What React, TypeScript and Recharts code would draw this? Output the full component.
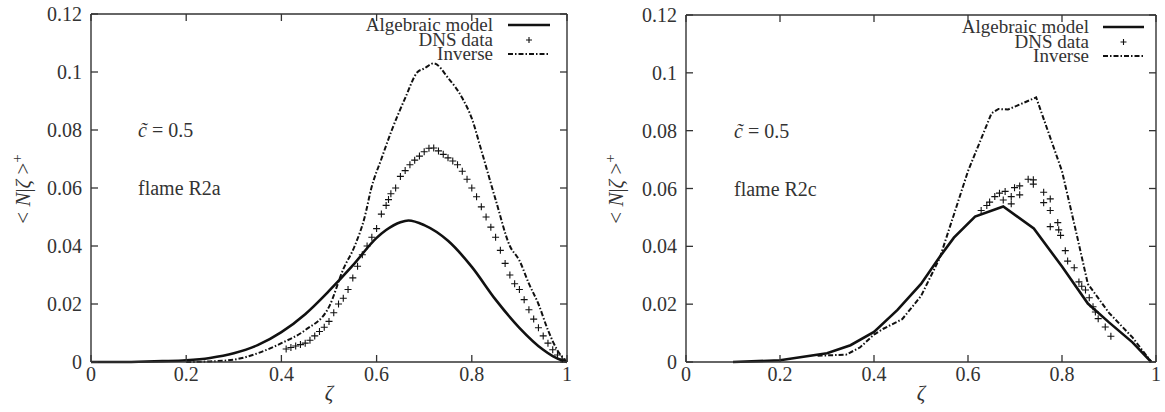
import React from 'react';
import { ComposedChart, Line, Scatter, XAxis, YAxis } from 'recharts';

const xTicks = [0, 0.2, 0.4, 0.6, 0.8, 1];
const xTickLabels = ['0', '0.2', '0.4', '0.6', '0.8', '1'];
const yTicks = [0, 0.02, 0.04, 0.06, 0.08, 0.1, 0.12];
const yTickLabels = ['0', '0.02', '0.04', '0.06', '0.08', '0.1', '0.12'];

const seriesNames = ['Algebraic model', 'DNS data', 'Inverse'];

// flame R2a
const r2aModelX = [0, 0.05, 0.1, 0.15, 0.2, 0.25, 0.3, 0.35, 0.4, 0.45, 0.5, 0.55, 0.6, 0.62, 0.65, 0.667, 0.7, 0.75, 0.8, 0.85, 0.9, 0.95, 0.97, 0.99, 1];
const r2aModelY = [0, 0, 0.0001, 0.0003, 0.0006, 0.0014, 0.003, 0.0058, 0.0103, 0.0165, 0.0245, 0.0333, 0.0428, 0.0455, 0.0482, 0.0488, 0.0472, 0.0418, 0.0328, 0.0215, 0.0118, 0.0042, 0.002, 0.0005, 0];

const r2aInvX = [0.2, 0.25, 0.3, 0.35, 0.4, 0.45, 0.5, 0.53, 0.554, 0.575, 0.589, 0.61, 0.632, 0.66, 0.686, 0.7, 0.72, 0.75, 0.78, 0.8, 0.82, 0.85, 0.88, 0.9, 0.92, 0.94, 0.96, 0.98, 1];
const r2aInvY = [0, 0.0002, 0.0008, 0.003, 0.0065, 0.011, 0.019, 0.032, 0.04, 0.05, 0.06, 0.07, 0.08, 0.091, 0.1, 0.1012, 0.103, 0.098, 0.091, 0.084, 0.073, 0.056, 0.04, 0.035, 0.027, 0.02, 0.011, 0.004, 0];

const r2aDnsX = [0.41, 0.42, 0.43, 0.44, 0.45, 0.46, 0.47, 0.48, 0.49, 0.5, 0.51, 0.52, 0.53, 0.54, 0.55, 0.56, 0.57, 0.58, 0.59, 0.6, 0.61, 0.62, 0.625, 0.63, 0.64, 0.65, 0.66, 0.67, 0.68, 0.69, 0.7, 0.71, 0.72, 0.73, 0.74, 0.75, 0.76, 0.77, 0.78, 0.79, 0.8, 0.81, 0.82, 0.83, 0.84, 0.85, 0.86, 0.87, 0.88, 0.89, 0.9, 0.91, 0.92, 0.93, 0.94, 0.95, 0.96, 0.97, 0.98, 0.99];
const r2aDnsY = [0.0045, 0.005, 0.0055, 0.006, 0.0065, 0.0075, 0.009, 0.0105, 0.012, 0.014, 0.017, 0.02, 0.022, 0.025, 0.029, 0.033, 0.037, 0.04, 0.043, 0.046, 0.051, 0.054, 0.056, 0.058, 0.06, 0.064, 0.066, 0.068, 0.0696, 0.071, 0.0725, 0.0737, 0.0738, 0.0728, 0.0716, 0.0704, 0.0693, 0.068, 0.0658, 0.063, 0.06, 0.057, 0.0535, 0.05, 0.0465, 0.043, 0.0385, 0.034, 0.03, 0.027, 0.025, 0.0215, 0.018, 0.0148, 0.0118, 0.009, 0.0065, 0.0042, 0.0024, 0.001];

// flame R2c
const r2cModelX = [0.1, 0.2, 0.3, 0.35, 0.4, 0.45, 0.5, 0.54, 0.57, 0.615, 0.675, 0.74, 0.8, 0.855, 0.9, 0.95, 0.99];
const r2cModelY = [0, 0.0006, 0.003, 0.0058, 0.0104, 0.018, 0.027, 0.0364, 0.043, 0.0503, 0.0538, 0.0462, 0.033, 0.0202, 0.0137, 0.0068, 0];

const r2cInvX = [0.28, 0.34, 0.37, 0.4, 0.42, 0.46, 0.5, 0.54, 0.6, 0.635, 0.65, 0.665, 0.685, 0.745, 0.8, 0.83, 0.855, 0.9, 0.95, 0.99];
const r2cInvY = [0.0022, 0.0025, 0.005, 0.0095, 0.0115, 0.0148, 0.0228, 0.036, 0.066, 0.08, 0.086, 0.0875, 0.0873, 0.0915, 0.066, 0.045, 0.027, 0.017, 0.0085, 0];

const r2cDnsX = [0.628, 0.64, 0.646, 0.657, 0.667, 0.675, 0.679, 0.692, 0.692, 0.699, 0.71, 0.71, 0.728, 0.739, 0.739, 0.761, 0.761, 0.775, 0.775, 0.775, 0.791, 0.793, 0.797, 0.807, 0.812, 0.826, 0.836, 0.842, 0.85, 0.858, 0.866, 0.871, 0.877, 0.892, 0.904];
const r2cDnsY = [0.0524, 0.0541, 0.0553, 0.0572, 0.0584, 0.056, 0.059, 0.0572, 0.0547, 0.0603, 0.0609, 0.0578, 0.0632, 0.063, 0.0615, 0.0587, 0.0551, 0.0564, 0.0524, 0.0468, 0.0482, 0.0457, 0.0438, 0.0385, 0.0349, 0.0326, 0.0277, 0.0262, 0.0249, 0.0222, 0.0191, 0.0173, 0.015, 0.0121, 0.0089];

const zip = (xs: number[], ys: number[]) => xs.map((x, i) => ({ x, y: ys[i] }));

// positions of the inward tick marks on the four frame sides
const bottomTicks = xTicks.map((x) => ({ x, y: 0 }));
const topTicks = xTicks.map((x) => ({ x, y: 0.12 }));
const leftTicks = yTicks.map((y) => ({ x: 0, y }));
const rightTicks = yTicks.map((y) => ({ x: 1, y }));

const FONT = "'Liberation Serif', serif";
const INK = '#111';
const FRAME = '#333';
const TEXT = '#333';
const DASHDOT = '5 2 1.5 2';
const TICK_LEN = 7;
const FS = 20;

const Plus = (props: any) => {
  const { cx, cy } = props;
  if (cx == null || cy == null) return null;
  const s = 3.5;
  return (
    <path
      d={`M${cx - s},${cy}H${cx + s}M${cx},${cy - s}V${cy + s}`}
      stroke={INK}
      strokeWidth={1.1}
      fill="none"
    />
  );
};

const tickMark = (dx: number, dy: number) => (props: any) => {
  const { cx, cy } = props;
  if (cx == null || cy == null) return null;
  return (
    <line
      x1={cx}
      y1={cy}
      x2={cx + dx * TICK_LEN}
      y2={cy + dy * TICK_LEN}
      stroke={FRAME}
      strokeWidth={1.3}
    />
  );
};

const tickStyle = { fontSize: FS, fontFamily: FONT, fill: TEXT };

type PanelProps = {
  left: number;
  width: number;
  height: number;
  margin: { top: number; right: number; left: number; bottom: number };
  yAxisWidth: number;
  model: { x: number; y: number }[];
  inverse: { x: number; y: number }[];
  dns: { x: number; y: number }[];
  curve: 'monotone' | 'linear';
  flame: string;
  legend: { right: number; top: number; lineLeft: number; lineWidth: number };
  notes: { left: number; cTop: number; fTop: number };
  yLabelX: number;
};

const textStyle: React.CSSProperties = {
  position: 'absolute',
  fontFamily: FONT,
  fontSize: FS,
  color: TEXT,
  whiteSpace: 'nowrap',
};

const Panel = (p: PanelProps) => {
  const plotLeft = p.margin.left + p.yAxisWidth;
  const plotRight = p.width - p.margin.right - 1;
  const xCenter = (plotLeft + plotRight) / 2;
  const axisLine = { stroke: FRAME, strokeWidth: 1.4 };
  return (
    <div style={{ position: 'absolute', left: p.left, top: 0, width: p.width, height: p.height }}>
      <ComposedChart width={p.width} height={p.height} margin={p.margin}>
        <XAxis
          xAxisId="b"
          type="number"
          dataKey="x"
          domain={[0, 1]}
          ticks={xTicks}
          tickFormatter={(v: number) => xTickLabels[xTicks.indexOf(v)] ?? String(v)}
          tickSize={0}
          tickMargin={5}
          height={50}
          axisLine={axisLine}
          tickLine={false}
          tick={tickStyle}
          interval={0}
        />
        <XAxis
          xAxisId="t"
          orientation="top"
          type="number"
          dataKey="x"
          domain={[0, 1]}
          ticks={xTicks}
          height={1}
          axisLine={axisLine}
          tickLine={false}
          tick={false}
        />
        <YAxis
          yAxisId="l"
          type="number"
          domain={[0, 0.12]}
          ticks={yTicks}
          tickFormatter={(v: number) => yTickLabels[yTicks.indexOf(v)] ?? String(v)}
          tickSize={0}
          tickMargin={9}
          width={p.yAxisWidth}
          axisLine={axisLine}
          tickLine={false}
          tick={tickStyle}
          interval={0}
        />
        <YAxis
          yAxisId="r"
          orientation="right"
          type="number"
          domain={[0, 0.12]}
          ticks={yTicks}
          width={1}
          axisLine={axisLine}
          tickLine={false}
          tick={false}
        />
        <Scatter xAxisId="b" yAxisId="l" data={bottomTicks} dataKey="y" shape={tickMark(0, -1)} isAnimationActive={false} />
        <Scatter xAxisId="b" yAxisId="l" data={topTicks} dataKey="y" shape={tickMark(0, 1)} isAnimationActive={false} />
        <Scatter xAxisId="b" yAxisId="l" data={leftTicks} dataKey="y" shape={tickMark(1, 0)} isAnimationActive={false} />
        <Scatter xAxisId="b" yAxisId="l" data={rightTicks} dataKey="y" shape={tickMark(-1, 0)} isAnimationActive={false} />
        <Line
          xAxisId="b"
          yAxisId="l"
          data={p.inverse}
          dataKey="y"
          type={p.curve}
          stroke={INK}
          strokeWidth={2}
          strokeDasharray={DASHDOT}
          dot={false}
          isAnimationActive={false}
          name={seriesNames[2]}
        />
        <Scatter
          xAxisId="b"
          yAxisId="l"
          data={p.dns}
          dataKey="y"
          shape={Plus}
          isAnimationActive={false}
          name={seriesNames[1]}
        />
        <Line
          xAxisId="b"
          yAxisId="l"
          data={p.model}
          dataKey="y"
          type={p.curve}
          stroke={INK}
          strokeWidth={2.6}
          dot={false}
          isAnimationActive={false}
          name={seriesNames[0]}
        />
      </ComposedChart>

      {/* legend */}
      {seriesNames.map((name, i) => (
        <div key={name}>
          <div
            style={{
              ...textStyle,
              fontSize: 19,
              right: p.width - p.legend.right,
              top: p.legend.top + i * 14.5 - 7,
              height: 14,
              lineHeight: '14px',
            }}
          >
            {name}
          </div>
          <svg
            style={{ position: 'absolute', left: p.legend.lineLeft, top: p.legend.top + i * 14.5 - 5 }}
            width={p.legend.lineWidth}
            height={10}
          >
            {i === 0 && <line x1={0} x2={p.legend.lineWidth} y1={5} y2={5} stroke={INK} strokeWidth={2.6} />}
            {i === 1 && (
              <path
                d={`M${p.legend.lineWidth / 2 - 3},5H${p.legend.lineWidth / 2 + 3}M${p.legend.lineWidth / 2},2V8`}
                stroke={INK}
                strokeWidth={1.1}
              />
            )}
            {i === 2 && (
              <line x1={0} x2={p.legend.lineWidth} y1={5} y2={5} stroke={INK} strokeWidth={2} strokeDasharray={DASHDOT} />
            )}
          </svg>
        </div>
      ))}

      {/* annotations */}
      <div style={{ ...textStyle, left: p.notes.left, top: p.notes.cTop - 12, height: 24, lineHeight: '24px' }}>
        <i>c̃</i> = 0.5
      </div>
      <div style={{ ...textStyle, left: p.notes.left, top: p.notes.fTop - 12, height: 24, lineHeight: '24px' }}>
        {p.flame}
      </div>

      {/* axis titles */}
      <div
        style={{
          ...textStyle,
          fontSize: 21,
          left: p.yLabelX,
          top: 189,
          transform: 'translate(-50%, -50%) rotate(-90deg)',
        }}
      >
        &lt; <i>N</i>|<i>ζ</i> &gt;<sup style={{ fontSize: 15 }}>+</sup>
      </div>
      <div
        style={{
          ...textStyle,
          left: xCenter,
          top: 393,
          transform: 'translate(-50%, -50%)',
          fontStyle: 'italic',
          fontSize: 21,
        }}
      >
        ζ
      </div>
    </div>
  );
};

export default function App() {
  return (
    <div style={{ position: 'absolute', left: 0, top: 0, width: 1165, height: 412, background: '#fff', overflow: 'hidden' }}>
      <Panel
        left={0}
        width={580}
        height={412}
        margin={{ top: 13, right: 12, left: 0, bottom: 0 }}
        yAxisWidth={91}
        model={zip(r2aModelX, r2aModelY)}
        inverse={zip(r2aInvX, r2aInvY)}
        dns={zip(r2aDnsX, r2aDnsY)}
        curve="monotone"
        flame="flame R2a"
        legend={{ right: 493, top: 25, lineLeft: 508, lineWidth: 42 }}
        notes={{ left: 138, cTop: 130, fTop: 188 }}
        yLabelX={22}
      />
      <Panel
        left={585}
        width={580}
        height={412}
        margin={{ top: 14, right: 8, left: 0, bottom: 0 }}
        yAxisWidth={101}
        model={zip(r2cModelX, r2cModelY)}
        inverse={zip(r2cInvX, r2cInvY)}
        dns={zip(r2cDnsX, r2cDnsY)}
        curve="linear"
        flame="flame R2c"
        legend={{ right: 504, top: 27, lineLeft: 518, lineWidth: 41 }}
        notes={{ left: 149, cTop: 131, fTop: 189 }}
        yLabelX={30}
      />
    </div>
  );
}
